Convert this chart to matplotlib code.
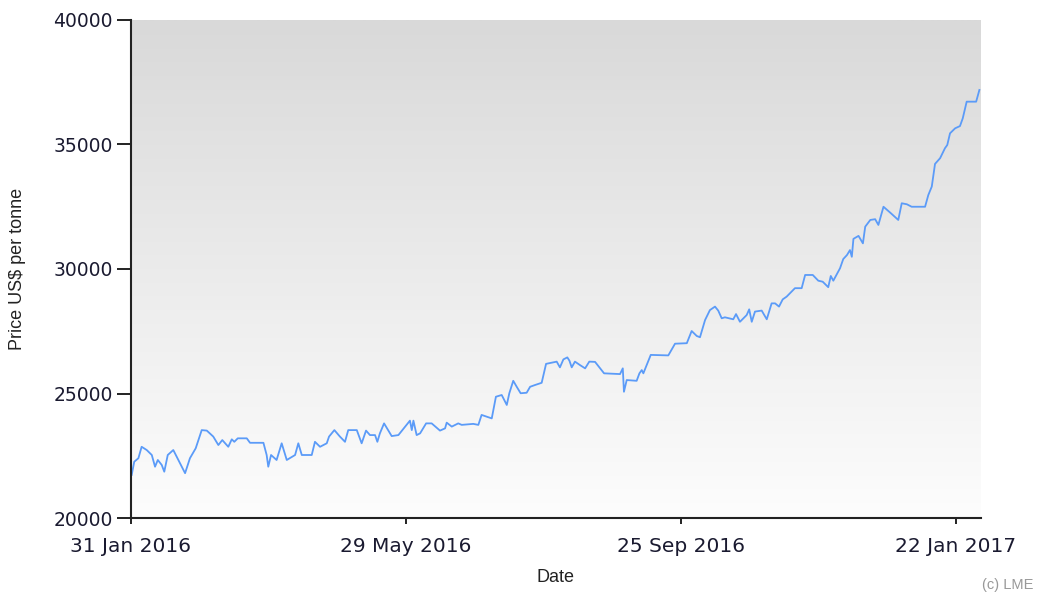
import numpy as np
import pandas as pd
import matplotlib
matplotlib.use('Agg')
import matplotlib.pyplot as plt

# days after 31 Jan 2016, price in US$ per tonne
days = [0.3, 1.4, 3.2, 4.6, 6.8, 9.0, 10.4, 11.6, 13.3, 14.4, 15.9, 18.3, 20.5, 23.4, 25.5,
        28.0, 30.6, 32.8, 35.6, 37.8, 39.5, 42.1, 43.6, 44.7, 46.2, 50.1, 51.5, 57.3, 58.7,
        59.4, 60.6, 63.0, 65.2, 67.4, 71.0, 72.4, 73.9, 78.2, 79.6, 81.8, 84.7, 85.7, 88.0,
        90.4, 92.6, 94.0, 97.7, 99.8, 101.7, 103.4, 105.6, 106.6, 107.7, 109.5, 112.8, 115.7,
        118.6, 120.7, 121.5, 122.2, 123.6, 125.1, 127.7, 130.1, 133.7, 135.9, 136.6, 138.8,
        141.6, 143.1, 148.1, 150.3, 151.7, 153.9, 156.1, 157.9, 160.4, 162.6, 163.7, 165.4,
        166.9, 168.6, 171.2, 172.7, 174.8, 177.7, 179.6, 182.1, 184.2, 185.6, 187.1, 188.8,
        189.7, 190.7, 192.1, 194.3, 196.5, 198.3, 200.8, 204.7, 211.6, 212.8, 213.3, 214.5,
        218.8, 220.0, 221.0, 221.7, 224.9, 232.5, 235.4, 240.5, 242.6, 244.8, 246.2, 248.4,
        250.5, 252.7, 254.1, 255.6, 257.0, 260.6, 261.8, 263.5, 266.4, 267.5, 268.6, 270.0,
        272.9, 275.1, 277.2, 278.7, 280.4, 282.0, 283.7, 287.3, 290.2, 291.7, 295.0, 297.4,
        299.3, 301.7, 302.8, 303.9, 306.8, 308.2, 309.8, 311.1, 311.9, 312.6, 314.8, 316.7,
        317.7, 319.9, 322.0, 323.4, 325.6, 328.8, 332.0, 333.5, 335.7, 337.8, 343.6, 345.0,
        346.5, 347.9, 350.1, 352.2, 353.2, 354.4, 356.6, 358.7, 359.9, 361.6, 363.8, 365.7,
        367.1]
price = [21730, 22260, 22400, 22860, 22730, 22530, 22060, 22330, 22130, 21860, 22530, 22730,
         22330, 21800, 22400, 22800, 23530, 23510, 23270, 22930, 23130, 22860, 23160, 23060,
         23200, 23200, 23020, 23020, 22530, 22060, 22530, 22330, 23000, 22330, 22530, 23000,
         22530, 22530, 23060, 22860, 23000, 23270, 23530, 23270, 23060, 23530, 23530, 23000,
         23510, 23330, 23330, 23060, 23400, 23800, 23290, 23330, 23670, 23910, 23530, 23910,
         23330, 23400, 23800, 23800, 23510, 23600, 23830, 23670, 23800, 23740, 23780, 23740,
         24140, 24070, 24000, 24870, 24940, 24540, 25010, 25510, 25270, 25010, 25030, 25270,
         25340, 25430, 26190, 26240, 26280, 26050, 26370, 26450, 26320, 26050, 26280, 26140,
         26010, 26280, 26270, 25810, 25780, 26010, 25070, 25540, 25510, 25810, 25940, 25810,
         26550, 26530, 27000, 27020, 27510, 27310, 27260, 27950, 28350, 28490, 28330, 28020,
         28060, 27980, 28190, 27880, 28150, 28380, 27880, 28290, 28330, 27980, 28620, 28620,
         28490, 28780, 28890, 29230, 29230, 29760, 29760, 29530, 29490, 29270, 29720, 29530,
         30030, 30400, 30560, 30760, 30490, 31210, 31330, 31030, 31700, 31970, 32000, 31770,
         32500, 32240, 31970, 32640, 32600, 32500, 32500, 32970, 33310, 34220, 34450, 34850,
         34980, 35450, 35650, 35740, 36050, 36720, 36720, 36720, 37190]

xtick_dates = ['2016-01-31', '2016-05-29', '2016-09-25', '2017-01-22']
xtick_labels = ['31 Jan 2016', '29 May 2016', '25 Sep 2016', '22 Jan 2017']
yticks = [20000, 25000, 30000, 35000, 40000]

start = pd.Timestamp('2016-01-31')
dates = start + pd.to_timedelta(days, unit='D')

fig = plt.figure(figsize=(10.37, 5.99), dpi=100)
ax = fig.add_axes([131/1037, 81/599, 850/1037, 498/599])

# grey to white gradient background
grad = np.linspace(0, 1, 256).reshape(-1, 1)
cmap = matplotlib.colors.LinearSegmentedColormap.from_list('bg', ['#d9d9d9', '#fdfdfd'])
ax.imshow(grad, extent=[0, 1, 0, 1], transform=ax.transAxes, cmap=cmap,
          aspect='auto', zorder=0)

ax.plot(dates, price, color='#5b9bf8', lw=1.3, zorder=2)

ax.set_xlim(start, start + pd.Timedelta(days=367.8))
ax.set_ylim(20000, 40000)
ax.set_yticks(yticks)
ax.set_xticks([pd.Timestamp(d) for d in xtick_dates])
ax.set_xticklabels(xtick_labels)

txtc = '#1a1a30'
ax.tick_params(axis='y', length=10, width=1.4, labelsize=13.5, colors='#222222',
               labelcolor=txtc, pad=3)
ax.tick_params(axis='x', length=4.5, width=1.4, labelsize=14.5, colors='#222222',
               labelcolor=txtc, pad=9)
for s in ['top', 'right']:
    ax.spines[s].set_visible(False)
for s in ['left', 'bottom']:
    ax.spines[s].set_linewidth(1.5)
    ax.spines[s].set_color('#222222')

ax.set_xlabel('Date', fontsize=13, family='Liberation Sans', color='#222222', va='center')
ax.xaxis.set_label_coords(0.5, -0.12)
ax.set_ylabel('Price US$ per tonne', fontsize=13, family='Liberation Sans',
              color='#222222', va='center')
ax.yaxis.set_label_coords(-0.133, 0.5)

fig.text(1033/1037, 1 - 585/599, '(c) LME', fontsize=10.5, family='Liberation Sans',
         color='#999999', ha='right', va='center')

fig.savefig('out.png', dpi=100)
